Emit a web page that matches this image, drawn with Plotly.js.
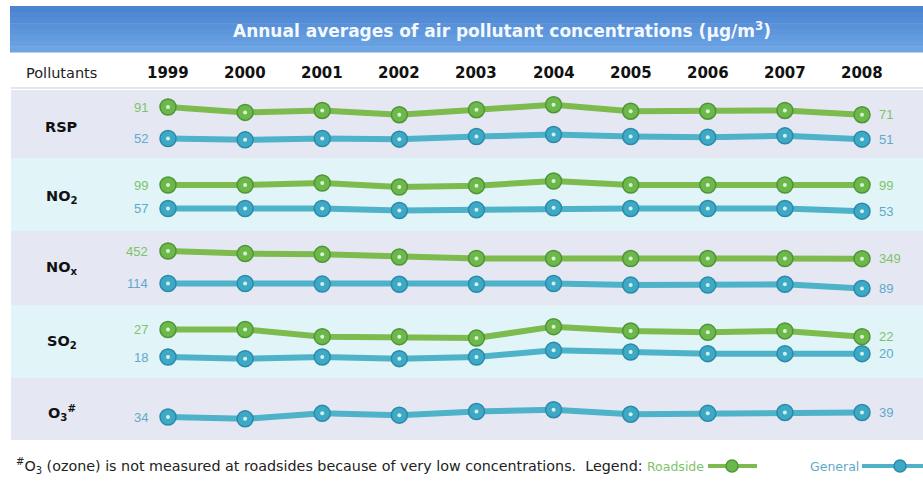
<!DOCTYPE html>
<html>
<head>
<meta charset="utf-8">
<script src="https://cdn.plot.ly/plotly-3.0.1.min.js"></script>
<style>html,body{margin:0;padding:0;background:#fff;}#chart{width:923px;height:482px;}</style>
</head>
<body>
<div id="chart"></div>
<script>
// ---- data ----
const years = [1999, 2000, 2001, 2002, 2003, 2004, 2005, 2006, 2007, 2008];
const pollutantLabels = ['RSP', 'NO<sub>2</sub>', 'NO<sub>x</sub>', 'SO<sub>2</sub>', 'O<sub>3</sub><sup>#</sup>'];
const rspRoadside = [91, 77, 82, 71, 84, 97, 80, 80, 82, 71];
const rspGeneral  = [52, 50, 52, 51, 55, 58, 55, 54, 56, 51];
const no2Roadside = [99, 99, 102, 96, 98, 105, 99, 99, 99, 99];
const no2General  = [57, 57, 57, 54, 55, 58, 57, 57, 57, 53];
const noxRoadside = [452, 417, 407, 371, 352, 352, 350, 350, 350, 349];
const noxGeneral  = [114, 114, 111, 110, 110, 114, 106, 106, 110, 89];
const so2Roadside = [27, 27, 22, 22, 21, 29, 26, 25, 26, 22];
const so2General  = [18, 17, 18, 17, 18, 22, 21, 20, 20, 20];
const o3General   = [34, 32, 38, 36, 40, 42, 37, 38, 39, 39];
const titleText = 'Annual averages of air pollutant concentrations (µg/m<sup>3</sup>)';
const footText = '<sup>#</sup>O<sub>3</sub> (ozone) is not measured at roadsides because of very low concentrations.  Legend:';

// ---- layout helpers (pixel geometry) ----
const W = 923, H = 482;
const px = x => x / W;
const py = y => 1 - y / H;
const WIDE = 'DejaVu Sans, Verdana, sans-serif';
const NARROW = 'Liberation Sans, Arial, sans-serif';
const GREEN = {line: '#7dbb4f', fill: '#6db84a', edge: '#4f9437', text: '#7cc46a'};
const TEAL  = {line: '#4eb2c8', fill: '#3ea9c6', edge: '#2a8aa8', text: '#5fa9c9'};

// series -> its own vertical scale: anchor pixel for first value and units per pixel
const series = [
  {name: 'Roadside', data: rspRoadside, c: GREEN, p0: 107, k: 2.6},
  {name: 'General',  data: rspGeneral,  c: TEAL,  p0: 138.5, k: 1.5},
  {name: 'Roadside', data: no2Roadside, c: GREEN, p0: 185, k: 1.5},
  {name: 'General',  data: no2General,  c: TEAL,  p0: 208.5, k: 1.5},
  {name: 'Roadside', data: noxRoadside, c: GREEN, p0: 251, k: 13.5},
  {name: 'General',  data: noxGeneral,  c: TEAL,  p0: 283.5, k: 5},
  {name: 'Roadside', data: so2Roadside, c: GREEN, p0: 329.5, k: 0.7},
  {name: 'General',  data: so2General,  c: TEAL,  p0: 357, k: 0.6},
  {name: 'General',  data: o3General,   c: TEAL,  p0: 417, k: 1.1}
];
const rowCenters = [127, 197, 268, 342, 413];

// x axis so that 1999 sits at 168px and 2008 at 862px
const pxPerYear = (862 - 168) / (years[years.length - 1] - years[0]);
const x0 = years[0] - 168 / pxPerYear;
const x1 = x0 + W / pxPerYear;

const traces = [];
const layout = {
  width: W, height: H,
  margin: {l: 0, r: 0, t: 0, b: 0},
  paper_bgcolor: '#ffffff', plot_bgcolor: 'rgba(0,0,0,0)',
  showlegend: false,
  font: {family: NARROW, size: 13, color: '#222'},
  xaxis: {range: [x0, x1], visible: false, fixedrange: true},
  shapes: [], annotations: []
};

function note(opts) {
  layout.annotations.push(Object.assign({xref: 'paper', yref: 'paper', showarrow: false,
    xanchor: 'center', yanchor: 'middle'}, opts));
}

series.forEach((s, i) => {
  const axName = i === 0 ? 'yaxis' : 'yaxis' + (i + 1);
  const ref = i === 0 ? 'y' : 'y' + (i + 1);
  const r1 = s.data[0] + s.k * s.p0;
  const r0 = r1 - s.k * H;
  layout[axName] = {range: [r0, r1], visible: false, fixedrange: true, domain: [0, 1]};
  if (i > 0) layout[axName].overlaying = 'y';
  traces.push({
    x: years, y: s.data, yaxis: ref, type: 'scatter', mode: 'lines+markers', name: s.name,
    line: {color: s.c.line, width: 6},
    marker: {size: 16, color: s.c.fill, line: {color: s.c.edge, width: 1.5}},
    hoverinfo: 'skip'
  });
  traces.push({
    x: years, y: s.data, yaxis: ref, type: 'scatter', mode: 'markers',
    marker: {size: 4, color: 'rgba(235,255,235,0.85)'}, hoverinfo: 'skip'
  });
  const n = s.data.length;
  note({x: years[0], y: s.data[0], xref: 'x', yref: ref, text: String(s.data[0]),
    xanchor: 'right', xshift: -18, font: {family: NARROW, size: 13, color: s.c.text}});
  note({x: years[n - 1], y: s.data[n - 1], xref: 'x', yref: ref, text: String(s.data[n - 1]),
    xanchor: 'left', xshift: 15, font: {family: NARROW, size: 13, color: s.c.text}});
});

// background bands
const bands = [[90, 158, '#e5e8f3'], [158, 231, '#e1f4f8'], [231, 305, '#e5e8f3'], [305, 378, '#e1f4f8'], [378, 440, '#e5e8f3']];
bands.forEach(b => {
  layout.shapes.push({type: 'rect', xref: 'paper', yref: 'paper', layer: 'below',
    x0: px(11), x1: px(923), y0: py(b[1]), y1: py(b[0]), line: {width: 0}, fillcolor: b[2]});
});
// title bar with a soft vertical gradient
const barTop = 6, barBot = 52, steps = 8;
const cTop = [74, 132, 208], cBot = [108, 164, 228];
for (let s = 0; s < steps; s++) {
  const t = s / (steps - 1);
  const c = cTop.map((v, j) => Math.round(v + (cBot[j] - v) * t));
  const ya = barTop + (barBot - barTop) * s / steps;
  const yb = barTop + (barBot - barTop) * (s + 1) / steps;
  layout.shapes.push({type: 'rect', xref: 'paper', yref: 'paper', layer: 'below',
    x0: px(10), x1: px(923), y0: py(yb + 0.5), y1: py(ya), line: {width: 0},
    fillcolor: 'rgb(' + c.join(',') + ')'});
}
// header row bottom rule
layout.shapes.push({type: 'line', xref: 'paper', yref: 'paper', layer: 'below',
  x0: px(11), x1: px(923), y0: py(88), y1: py(88), line: {color: '#e4e6ec', width: 2}});

note({x: px(502), y: py(30), text: '<b>' + titleText + '</b>',
  font: {family: WIDE, size: 17, color: '#f4f8ff'}});
note({x: px(62), y: py(73), text: 'Pollutants', font: {family: WIDE, size: 14.5, color: '#222'}});
years.forEach(yr => {
  note({x: yr, xref: 'x', y: py(73), text: '<b>' + yr + '</b>', font: {family: WIDE, size: 15, color: '#111'}});
});
pollutantLabels.forEach((lab, i) => {
  note({x: px(62), y: py(rowCenters[i]), text: '<b>' + lab + '</b>', font: {family: WIDE, size: 14.5, color: '#111'}});
});
// footer
note({x: px(14), y: py(466), xanchor: 'left', text: footText, font: {family: WIDE, size: 14.3, color: '#222'}});
note({x: px(645), y: py(466), xanchor: 'left', text: 'Roadside', font: {family: WIDE, size: 12.5, color: GREEN.text}});
note({x: px(808), y: py(466), xanchor: 'left', text: 'General', font: {family: WIDE, size: 12.5, color: TEAL.text}});
[[708, 757, 732, GREEN], [862, 923, 900, TEAL]].forEach(g => {
  layout.shapes.push({type: 'line', xref: 'paper', yref: 'paper', x0: px(g[0]), x1: px(g[1]),
    y0: py(466), y1: py(466), line: {color: g[3].line, width: 4}});
  layout.shapes.push({type: 'circle', xref: 'paper', yref: 'paper', x0: px(g[2] - 6), x1: px(g[2] + 6),
    y0: py(472), y1: py(460), line: {color: g[3].edge, width: 1.5}, fillcolor: g[3].fill});
});

Plotly.newPlot('chart', traces, layout, {staticPlot: true, displayModeBar: false});
</script>
</body>
</html>
